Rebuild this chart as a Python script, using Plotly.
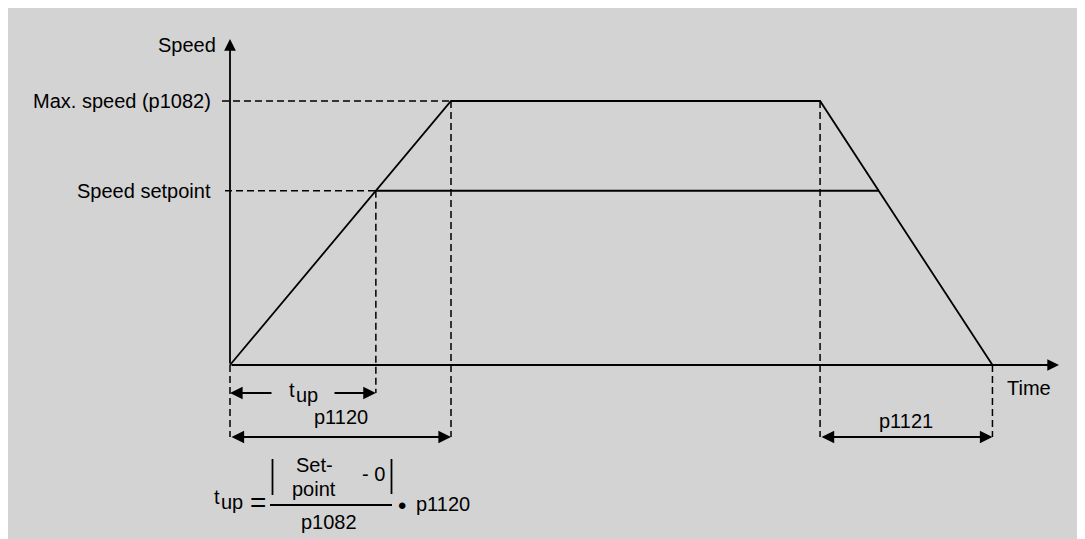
import plotly.graph_objects as go

# ramp-function generator: speed profile (speed in units of max speed, time in units of p1120)
max_speed = 1.0
speed_setpoint = 0.66
p1120 = 1.0       # ramp-up time 0 -> max speed
hold_end = 2.67   # time at which ramp-down begins
p1121 = 0.78      # ramp-down time max speed -> 0

ramp_t = [0, p1120, hold_end, hold_end + p1121]
ramp_v = [0, max_speed, max_speed, 0]

t_up = speed_setpoint / max_speed * p1120
sp_end = hold_end + (max_speed - speed_setpoint) / max_speed * p1121
sp_t = [t_up, sp_end]
sp_v = [speed_setpoint, speed_setpoint]

level_labels = ["Max. speed (p1082)", "Speed setpoint"]
level_values = [max_speed, speed_setpoint]

# page pixel -> data helpers for placing text (diagram origin at 230,365 on the page;
# the page body adds an 8px offset to the figure)
X0, Y0, SX, SY = 230, 365, 221, 264
OFF = 8
W, H = 1085, 539


def dx(p):
    return (p - X0) / SX


def dy(p):
    return (Y0 - p) / SY


FONT = "Liberation Sans, Arial, sans-serif"
INK = "black"

fig = go.Figure()

# main profile
fig.add_trace(go.Scatter(x=ramp_t, y=ramp_v, mode="lines",
                         line=dict(color=INK, width=1.8)))
fig.add_trace(go.Scatter(x=sp_t, y=sp_v, mode="lines",
                         line=dict(color=INK, width=1.8)))

dash = dict(color=INK, width=1.5, dash="7px,4px")
y_dim1 = dy(393)
y_dim2 = dy(437)

# dashed helper lines
guides = [
    ([dx(222), p1120], [max_speed, max_speed]),
    ([dx(225), t_up], [speed_setpoint, speed_setpoint]),
    ([t_up, t_up], [speed_setpoint, y_dim1]),
    ([0, 0], [0, y_dim2]),
    ([p1120, p1120], [max_speed, y_dim2]),
    ([hold_end, hold_end], [max_speed, y_dim2]),
    ([hold_end + p1121, hold_end + p1121], [0, y_dim2]),
]
for gx, gy in guides:
    fig.add_trace(go.Scatter(x=gx, y=gy, mode="lines", line=dash))

ann = []


def arrow(x, y, ax, ay, both=False, width=1.8, size=1.3):
    a = dict(x=x, y=y, ax=ax, ay=ay, xref="x", yref="y", axref="x", ayref="y",
             text="", showarrow=True, arrowhead=2, arrowsize=size,
             arrowwidth=width, arrowcolor=INK, standoff=0)
    if both:
        a.update(arrowside="end+start", startarrowhead=2, startarrowsize=size,
                 startstandoff=0)
    ann.append(a)


def label(text, x, y, xanchor="center", size=20, xshift=0, yshift=0):
    ann.append(dict(x=x, y=y, xref="x", yref="y", text=text, showarrow=False,
                    xanchor=xanchor, yanchor="middle", xshift=xshift, yshift=yshift,
                    font=dict(family=FONT, size=size, color=INK)))


def t_up_label(left, y):
    # "t" with a full-size, lowered "up"
    label("t", dx(left), dy(y), xanchor="left")
    label("up", dx(left + 7), dy(y + 5), xanchor="left")


# axes
arrow(0, dy(39), 0, 0)
arrow(dx(1059), 0, 0, 0)
label("Speed", 0, dy(45), xanchor="right", xshift=-12)
label("Time", dx(1005), dy(388), xanchor="left")

for txt, v in zip(level_labels, level_values):
    label(txt, 0, v, xanchor="right", xshift=-17)

# dimension arrows
arrow(0, y_dim1, dx(273), y_dim1, size=1.4)
arrow(t_up, y_dim1, dx(333), y_dim1, size=1.4)
t_up_label(287, 390)
arrow(p1120, y_dim2, 0, y_dim2, both=True, size=1.4)
label("p1120", p1120 / 2, dy(417))
arrow(hold_end + p1121, y_dim2, hold_end, y_dim2, both=True, size=1.4)
label("p1121", hold_end + p1121 / 2, dy(421))

# formula
t_up_label(212, 497)
label("=", dx(258), dy(502), size=28)
label("Set-", dx(314), dy(465))
label("point", dx(314), dy(489))
label("- 0", dx(373), dy(474))
label("p1082", dx(329), dy(522))
label("•", dx(402), dy(505), size=24)
label("p1120", dx(414), dy(504), xanchor="left")

shapes = [
    dict(type="line", xref="x", yref="y", x0=dx(270), x1=dx(392), y0=dy(505), y1=dy(505),
         line=dict(color=INK, width=1.8)),
    dict(type="line", xref="x", yref="y", x0=dx(272.5), x1=dx(272.5), y0=dy(459), y1=dy(495),
         line=dict(color=INK, width=1.8)),
    dict(type="line", xref="x", yref="y", x0=dx(391.5), x1=dx(391.5), y0=dy(459), y1=dy(494),
         line=dict(color=INK, width=1.8)),
]

fig.update_layout(
    width=W, height=H,
    margin=dict(l=0, r=0, t=0, b=0),
    paper_bgcolor="#d3d3d3",
    plot_bgcolor="#d3d3d3",
    showlegend=False,
    hovermode=False,
    annotations=ann,
    shapes=shapes,
    xaxis=dict(range=[dx(OFF), dx(OFF + W)], visible=False, fixedrange=True),
    yaxis=dict(range=[dy(OFF + H), dy(OFF)], visible=False, fixedrange=True),
)

fig.write_html("out.html")
